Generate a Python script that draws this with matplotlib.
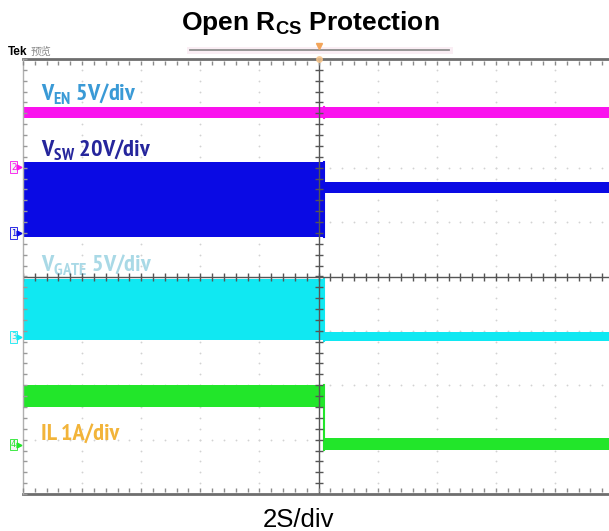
import numpy as np
import matplotlib
matplotlib.use('Agg')
import matplotlib.pyplot as plt
from matplotlib.lines import Line2D

W, H = 609, 531

# time axis: 2 s/div, 10 divisions
t_start, t_end = -10.0, 10.0
t_trip = 0.17   # protection trips here (s)

# traces, in divisions (8 div tall, 0 = centre)
channels = ['VEN', 'VSW', 'VGATE', 'IL']
colors = ['#fa12ee', '#0a0ae4', '#10e8f2', '#22e62a']
low_before = [2.91, 0.73, -1.17, -2.40]
high_before = [3.12, 2.10, -0.05, -1.99]
low_after = [2.91, 1.53, -1.19, -3.19]
high_after = [3.12, 1.74, -1.02, -2.97]
ground_level = [2.01, 0.80, -1.11, -3.09]
ground_tag = ['2', '1', '3', '4']

label_text = [r'V$_{\mathregular{EN}}$ 5V/div', r'V$_{\mathregular{SW}}$ 20V/div',
              r'V$_{\mathregular{GATE}}$ 5V/div', 'IL 1A/div']
label_colors = ['#3a9ad6', '#26269c', '#a9d9e6', '#f2b43a']
label_y = [3.23, 2.21, 0.08, -3.0]

fig = plt.figure(figsize=(W/100, H/100), dpi=100)
fig.patch.set_facecolor('white')

ax = fig.add_axes([23/W, (H-494)/H, (614-23)/W, 435/H])
ax.set_xlim(t_start, t_end)
ax.set_ylim(-4, 4)
ax.axis('off')

# graticule
xs = np.arange(-10, 10.01, 0.4)
ys = np.arange(-4, 4.01, 0.2)
for xv in range(-8, 9, 2):
    if xv != 0:
        ax.plot(np.full_like(ys, xv), ys, ls='none', marker='o', ms=1.3, color='#d2d2d2', mew=0, zorder=1)
for yv in range(-3, 4):
    if yv != 0:
        ax.plot(xs, np.full_like(xs, yv), ls='none', marker='o', ms=1.3, color='#d2d2d2', mew=0, zorder=1)

ax.plot([t_start, t_end], [4, 4], color='#6e6e6e', lw=2, clip_on=False, zorder=5)
ax.plot([t_start, t_end], [-4, -4], color='#6e6e6e', lw=2, clip_on=False, zorder=5)
ax.plot([t_start, t_start], [-4, 4], color='#b0b0b0', lw=1, clip_on=False, zorder=5)
ax.plot(xs, np.full_like(xs, 3.93), ls='none', marker='|', ms=3.5, color='#8a8a8a', clip_on=False, zorder=5)
ax.plot(xs, np.full_like(xs, -3.93), ls='none', marker='|', ms=3.5, color='#8a8a8a', clip_on=False, zorder=5)
ax.plot(np.full_like(ys, -9.93), ys, ls='none', marker='_', ms=3.5, color='#9a9a9a', clip_on=False, zorder=5)

# traces
for i in range(len(channels)):
    ax.fill_between([t_start, t_trip], low_before[i], high_before[i], color=colors[i], lw=0, zorder=3)
    ax.fill_between([t_trip, t_end], low_after[i], high_after[i], color=colors[i], lw=0, zorder=3)
    lo = min(low_before[i], low_after[i])
    hi = max(high_before[i], high_after[i])
    ax.plot([t_trip, t_trip], [lo, hi], color=colors[i], lw=1.5, zorder=3)
    ax.text(-9.4, label_y[i], label_text[i], color=label_colors[i], fontsize=17.5, fontweight='bold',
            family=['PT Sans Narrow', 'Carlito', 'Liberation Sans'], va='baseline', ha='left', zorder=4)
    ax.text(-10.32, ground_level[i], ground_tag[i], color=colors[i], fontsize=6, ha='center', va='center',
            bbox=dict(boxstyle='square,pad=0.15', fc='#f4f4f4', ec=colors[i], lw=0.6), clip_on=False, zorder=6)
    ax.plot([-10.12], [ground_level[i]], marker='>', ms=3.5, color=colors[i], clip_on=False, zorder=6)

# centre crosshair with minor ticks
ax.plot([t_start, t_end], [0, 0], color='#555555', lw=1, zorder=4)
ax.plot([0, 0], [-4, 4], color='#555555', lw=1, zorder=4)
ax.plot(xs, np.zeros_like(xs), ls='none', marker='|', ms=6, color='#555555', zorder=4)
ax.plot(np.zeros_like(ys), ys, ls='none', marker='_', ms=6, color='#555555', zorder=4)

# top of the scope screen
fig.text(8/W, 1-55/H, 'Tek', fontsize=8.5, fontweight='bold', family='Liberation Sans', va='baseline')
fig.text(31/W, 1-55/H, '预览', fontsize=7.5, color='#8a8a8a', family=['Noto Sans CJK SC', 'DejaVu Sans'], va='baseline')
fig.add_artist(Line2D([190/W, 449/W], [1-50/H, 1-50/H], color='#faeef4', lw=5))
fig.add_artist(Line2D([190/W, 449/W], [1-50/H, 1-50/H], color='#8f8f8f', lw=1.3))
fig.add_artist(Line2D([319/W], [1-46/H], marker='v', ms=4, color='#f3a55a', ls='none'))
fig.add_artist(Line2D([319/W], [1-59/H], marker='o', ms=4, color='#f6c48a', ls='none', alpha=0.8))

fig.text(310/W, 1-30/H, r'Open R$_{\mathregular{CS}}$ Protection', ha='center', va='baseline',
         fontsize=19, fontweight='bold', family='Liberation Sans')
fig.text(298/W, 1-527/H, '2S/div', ha='center', va='baseline', fontsize=18.5, family='Liberation Sans')

fig.savefig('out.png', dpi=100, facecolor='white')
